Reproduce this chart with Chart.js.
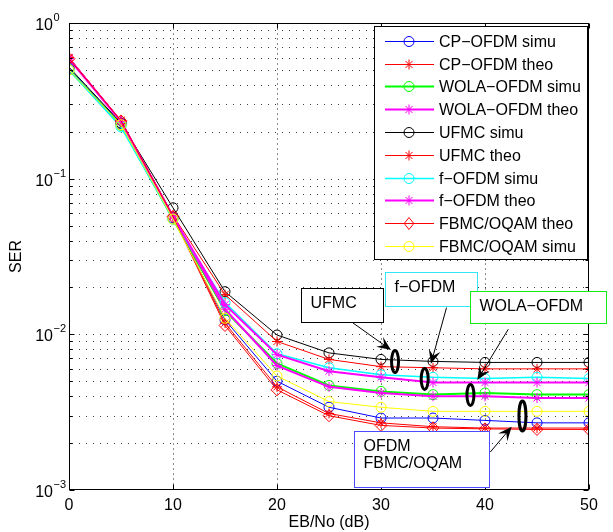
<!DOCTYPE html>
<html>
<head>
<meta charset="utf-8">
<script src="https://cdn.jsdelivr.net/npm/chart.js@4.4.0/dist/chart.umd.min.js"></script>
<style>
html,body{margin:0;padding:0;background:#fff;}
#wrap{width:613px;height:532px;position:relative;}
</style>
</head>
<body>
<div id="wrap"><canvas id="c" width="613" height="532"></canvas></div>
<script>
// ---------------- DATA ----------------
const ebno = [0, 5, 10, 15, 20, 25, 30, 35, 40, 45, 50];
const xTickValues = [0, 10, 20, 30, 40, 50];
const yDecades = [-3, -2, -1, 0];

const cpOfdmSimu = [0.51, 0.225, 0.056, 0.0124, 0.0050, 0.0034, 0.0029, 0.0029, 0.0028, 0.0027, 0.0027];
const cpOfdmTheo = [0.60, 0.236, 0.058, 0.0118, 0.0046, 0.0031, 0.0027, 0.00255, 0.0025, 0.0025, 0.0025];
const wolaSimu   = [0.50, 0.220, 0.055, 0.0142, 0.0065, 0.0047, 0.0043, 0.0041, 0.0042, 0.0041, 0.0041];
const wolaTheo   = [0.59, 0.233, 0.057, 0.0145, 0.0063, 0.0046, 0.0042, 0.0040, 0.0040, 0.0039, 0.0039];
const ufmcSimu   = [0.52, 0.228, 0.065, 0.0188, 0.0099, 0.0076, 0.0069, 0.0067, 0.0066, 0.0066, 0.0066];
const ufmcTheo   = [0.60, 0.236, 0.058, 0.0180, 0.0090, 0.0069, 0.0062, 0.0061, 0.0060, 0.0060, 0.0060];
const fOfdmSimu  = [0.50, 0.215, 0.055, 0.0160, 0.0075, 0.0061, 0.0055, 0.0053, 0.0052, 0.0053, 0.0052];
const fOfdmTheo  = [0.59, 0.233, 0.057, 0.0155, 0.0074, 0.0058, 0.0053, 0.0049, 0.0049, 0.0049, 0.0049];
const fbmcTheo   = [0.59, 0.235, 0.057, 0.0114, 0.0044, 0.0030, 0.0026, 0.0025, 0.00247, 0.00245, 0.00245];
const fbmcSimu   = [0.50, 0.222, 0.055, 0.0127, 0.0054, 0.0037, 0.0034, 0.0032, 0.0032, 0.0032, 0.0032];

const seriesNames = ['CP−OFDM simu', 'CP−OFDM theo', 'WOLA−OFDM simu', 'WOLA−OFDM theo', 'UFMC simu',
                     'UFMC theo', 'f−OFDM simu', 'f−OFDM theo', 'FBMC/OQAM theo', 'FBMC/OQAM simu'];
const seriesValues = [cpOfdmSimu, cpOfdmTheo, wolaSimu, wolaTheo, ufmcSimu,
                      ufmcTheo, fOfdmSimu, fOfdmTheo, fbmcTheo, fbmcSimu];

// annotation texts
const boxTexts = [['UFMC'], ['f−OFDM'], ['WOLA−OFDM'], ['OFDM', 'FBMC/OQAM']];

// ---------------- STYLE ----------------
const FONT = '"Liberation Sans", Arial, Helvetica, "DejaVu Sans", sans-serif';
const seriesStyle = [
  {color: '#0000ff', marker: 'circle',  lw: 1},
  {color: '#ff0000', marker: 'star',    lw: 1},
  {color: '#00ff00', marker: 'circle',  lw: 2},
  {color: '#ff00ff', marker: 'star',    lw: 2},
  {color: '#000000', marker: 'circle',  lw: 1},
  {color: '#ff0000', marker: 'star',    lw: 1},
  {color: '#00ffff', marker: 'circle',  lw: 1.5},
  {color: '#ff00ff', marker: 'star',    lw: 2},
  {color: '#ff0000', marker: 'rectRot', lw: 1},
  {color: '#ffff00', marker: 'circle',  lw: 1}
];
const markerRadius = {circle: 5, star: 5, rectRot: 6};

// annotation geometry in data units (x: dB, y: SER)
const boxGeom = [
  {x1: 22.3, x2: 30.2, yTop: 0.0199, yBot: 0.0120, color: '#000000'},
  {x1: 30.4, x2: 39.2, yTop: 0.0250, yBot: 0.0151, color: '#33e6f5'},
  {x1: 38.6, x2: 51.6, yTop: 0.0191, yBot: 0.0118, color: '#11ee11'},
  {x1: 27.4, x2: 40.4, yTop: 0.0024, yBot: 0.00105, color: '#4a4aff'}
];
const ellipseGeom = [
  {x: 31.35, y: 0.00668, rx: 3.5, ry: 11},
  {x: 34.2,  y: 0.00517, rx: 3.5, ry: 10.5},
  {x: 38.6,  y: 0.00408, rx: 3.5, ry: 10.5},
  {x: 43.6,  y: 0.00299, rx: 3.5, ry: 15}
];
const arrowGeom = [
  {x0: 27.3, y0: 0.01184, x1: 30.96, y1: 0.00794},
  {x0: 36.3, y0: 0.01484, x1: 34.8,  y1: 0.00646},
  {x0: 42.24, y0: 0.01078, x1: 39.26, y1: 0.00509},
  {x0: 40.5, y0: 0.00175, x1: 42.57, y1: 0.00255}
];

// ---------------- BUILD ----------------
const N = seriesNames.length;
const datasets = seriesNames.map((name, i) => ({
  label: name,
  data: ebno.map((x, k) => ({x: x, y: seriesValues[i][k]})),
  borderColor: seriesStyle[i].color,
  backgroundColor: 'rgba(0,0,0,0)',
  borderWidth: seriesStyle[i].lw,
  pointStyle: seriesStyle[i].marker,
  pointRadius: markerRadius[seriesStyle[i].marker],
  pointBorderColor: seriesStyle[i].color,
  pointBackgroundColor: 'rgba(0,0,0,0)',
  pointBorderWidth: 1,
  tension: 0,
  order: N - i
}));

function yTickList() {
  const t = [];
  yDecades.forEach(d => {
    for (let m = 1; m <= 9; m++) {
      const v = m * Math.pow(10, d);
      if (v > 1.0000001) break;
      t.push({value: v, major: m === 1, exp: d});
    }
  });
  return t;
}

function drawMarker(ctx, style, x, y, r, color) {
  ctx.save();
  ctx.strokeStyle = color; ctx.lineWidth = 1;
  ctx.beginPath();
  if (style === 'circle') {
    ctx.arc(x, y, r, 0, Math.PI * 2);
  } else if (style === 'star') {
    for (let a = 0; a < 4; a++) {
      const t = a * Math.PI / 4;
      ctx.moveTo(x - r * Math.cos(t), y - r * Math.sin(t));
      ctx.lineTo(x + r * Math.cos(t), y + r * Math.sin(t));
    }
  } else if (style === 'rectRot') {
    ctx.moveTo(x, y - r); ctx.lineTo(x + r * 0.8, y); ctx.lineTo(x, y + r); ctx.lineTo(x - r * 0.8, y); ctx.closePath();
  }
  ctx.stroke();
  ctx.restore();
}

const framePlugin = {
  id: 'frame',
  beforeDatasetsDraw(chart) {
    // dotted grid (MATLAB style)
    const ctx = chart.ctx, a = chart.chartArea;
    const xs = chart.scales.x, ys = chart.scales.y;
    ctx.save();
    ctx.lineWidth = 1;
    ctx.strokeStyle = 'rgba(0,0,0,0.75)';
    ctx.setLineDash([1, 6]);
    ctx.beginPath();
    yTickList().forEach(t => {
      const py = Math.round(ys.getPixelForValue(t.value)) + 0.5;
      if (py < a.top + 1 || py > a.bottom - 1) return;
      ctx.moveTo(a.left + 3, py); ctx.lineTo(a.right, py);
    });
    ctx.stroke();
    ctx.strokeStyle = 'rgba(0,0,0,0.45)';
    ctx.setLineDash([2, 3]);
    ctx.beginPath();
    xTickValues.forEach(v => {
      const px = Math.round(xs.getPixelForValue(v)) + 0.5;
      if (px < a.left + 1 || px > a.right - 1) return;
      ctx.moveTo(px, a.bottom); ctx.lineTo(px, a.top);
    });
    ctx.stroke();
    ctx.restore();
  },
  afterDatasetsDraw(chart) {
    const ctx = chart.ctx, a = chart.chartArea;
    const xs = chart.scales.x, ys = chart.scales.y;
    ctx.save();
    ctx.strokeStyle = '#000'; ctx.lineWidth = 1;
    const L = Math.round(a.left) + 0.5, R = Math.round(a.right) - 0.5;
    const T = Math.round(a.top) + 0.5, B = Math.round(a.bottom) - 0.5;
    ctx.strokeRect(L, T, R - L, B - T);
    ctx.beginPath();
    xTickValues.forEach(v => {
      const px = Math.round(xs.getPixelForValue(v)) + 0.5;
      ctx.moveTo(px, B); ctx.lineTo(px, B - 5);
      ctx.moveTo(px, T); ctx.lineTo(px, T + 5);
    });
    yTickList().forEach(t => {
      const py = Math.round(ys.getPixelForValue(t.value)) + 0.5;
      const len = t.major ? 5 : 3;
      ctx.moveTo(L, py); ctx.lineTo(L + len, py);
      ctx.moveTo(R, py); ctx.lineTo(R - len, py);
    });
    ctx.stroke();

    // y tick labels: 10 with raised exponent
    ctx.fillStyle = '#000';
    yTickList().filter(t => t.major).forEach(t => {
      const py = ys.getPixelForValue(t.value);
      ctx.font = '16px ' + FONT; ctx.textAlign = 'right'; ctx.textBaseline = 'alphabetic';
      ctx.fillText('10', a.left - 16, py + 7);
      ctx.font = '11px ' + FONT; ctx.textAlign = 'left';
      ctx.fillText(t.exp === 0 ? '0' : '−' + Math.abs(t.exp), a.left - 15.5, py - 2);
    });

    // annotations
    const X = v => xs.getPixelForValue(v), Y = v => ys.getPixelForValue(v);
    arrowGeom.forEach(g => {
      const x0 = X(g.x0), y0 = Y(g.y0), x1 = X(g.x1), y1 = Y(g.y1);
      const dx = x1 - x0, dy = y1 - y0, len = Math.hypot(dx, dy);
      const ux = dx / len, uy = dy / len, nx = -uy, ny = ux;
      const HL = 14, HW = 6;
      ctx.strokeStyle = '#000'; ctx.lineWidth = 1;
      ctx.beginPath(); ctx.moveTo(x0, y0); ctx.lineTo(x1 - ux * 6, y1 - uy * 6); ctx.stroke();
      ctx.fillStyle = '#000';
      ctx.beginPath();
      ctx.moveTo(x1, y1);
      ctx.lineTo(x1 - ux * HL + nx * HW, y1 - uy * HL + ny * HW);
      ctx.lineTo(x1 - ux * HL * 0.6, y1 - uy * HL * 0.6);
      ctx.lineTo(x1 - ux * HL - nx * HW, y1 - uy * HL - ny * HW);
      ctx.closePath(); ctx.fill();
    });
    ellipseGeom.forEach(g => {
      ctx.strokeStyle = '#000'; ctx.lineWidth = 3;
      ctx.beginPath(); ctx.ellipse(X(g.x), Y(g.y), g.rx, g.ry, 0, 0, Math.PI * 2); ctx.stroke();
    });
    boxGeom.forEach((g, i) => {
      const x1 = Math.round(X(g.x1)) + 0.5, x2 = Math.round(X(g.x2)) + 0.5;
      const yt = Math.round(Y(g.yTop)) + 0.5, yb = Math.round(Y(g.yBot)) + 0.5;
      ctx.fillStyle = '#fff'; ctx.fillRect(x1, yt, x2 - x1, yb - yt);
      ctx.strokeStyle = g.color; ctx.lineWidth = 1; ctx.strokeRect(x1, yt, x2 - x1, yb - yt);
      ctx.fillStyle = '#000'; ctx.font = '16px ' + FONT; ctx.textBaseline = 'alphabetic'; ctx.textAlign = 'left';
      boxTexts[i].forEach((t, k) => ctx.fillText(t, x1 + 9, yt + 19 + k * 17));
    });
    ctx.restore();
  },
  afterDraw(chart) {
    // legend
    const ctx = chart.ctx, a = chart.chartArea;
    const lx = a.right - 215, ly = a.top + 3, lw = 213, lh = 233;
    ctx.save();
    ctx.fillStyle = '#fff';
    ctx.fillRect(Math.round(lx) + 0.5, Math.round(ly) + 0.5, lw, lh);
    ctx.strokeStyle = '#000'; ctx.lineWidth = 1;
    ctx.strokeRect(Math.round(lx) + 0.5, Math.round(ly) + 0.5, lw, lh);
    ctx.font = '16px ' + FONT; ctx.textBaseline = 'middle'; ctx.textAlign = 'left';
    seriesNames.forEach((name, i) => {
      const y = Math.round(ly + 14.7 + i * 22.8) + 0.5;
      const st = seriesStyle[i];
      ctx.strokeStyle = st.color; ctx.lineWidth = st.lw;
      ctx.beginPath(); ctx.moveTo(lx + 11, y); ctx.lineTo(lx + 60, y); ctx.stroke();
      drawMarker(ctx, st.marker, lx + 35, y, st.marker === 'rectRot' ? 6 : 5, st.color);
      ctx.fillStyle = '#000';
      ctx.fillText(name, lx + 65, y + 1);
    });
    ctx.restore();
  }
};

new Chart(document.getElementById('c'), {
  type: 'line',
  data: {datasets: datasets},
  plugins: [framePlugin],
  options: {
    responsive: false,
    animation: false,
    devicePixelRatio: 1,
    layout: {padding: {left: 0, right: 24, top: 23, bottom: 0}},
    plugins: {legend: {display: false}, tooltip: {enabled: false}},
    scales: {
      x: {
        type: 'linear', min: 0, max: 50,
        afterFit: s => { s.height = 42; },
        afterBuildTicks: s => { s.ticks = xTickValues.map(v => ({value: v})); },
        ticks: {color: '#000', font: {size: 16, family: FONT}, padding: 6, maxRotation: 0, autoSkip: false},
        grid: {display: false, drawTicks: false},
        border: {display: false},
        title: {display: true, text: 'EB/No (dB)', color: '#000', font: {size: 16, family: FONT}, padding: {top: 0, bottom: 0}}
      },
      y: {
        type: 'logarithmic', min: 0.001, max: 1,
        afterFit: s => { s.width = 69; },
        afterBuildTicks: s => { s.ticks = yTickList().map(t => ({value: t.value, major: t.major})); },
        ticks: {display: false, autoSkip: false},
        grid: {display: false, drawTicks: false},
        border: {display: false},
        title: {display: true, text: 'SER', color: '#000', font: {size: 16, family: FONT}, padding: {top: 7, bottom: 0}}
      }
    }
  }
});
</script>
</body>
</html>
